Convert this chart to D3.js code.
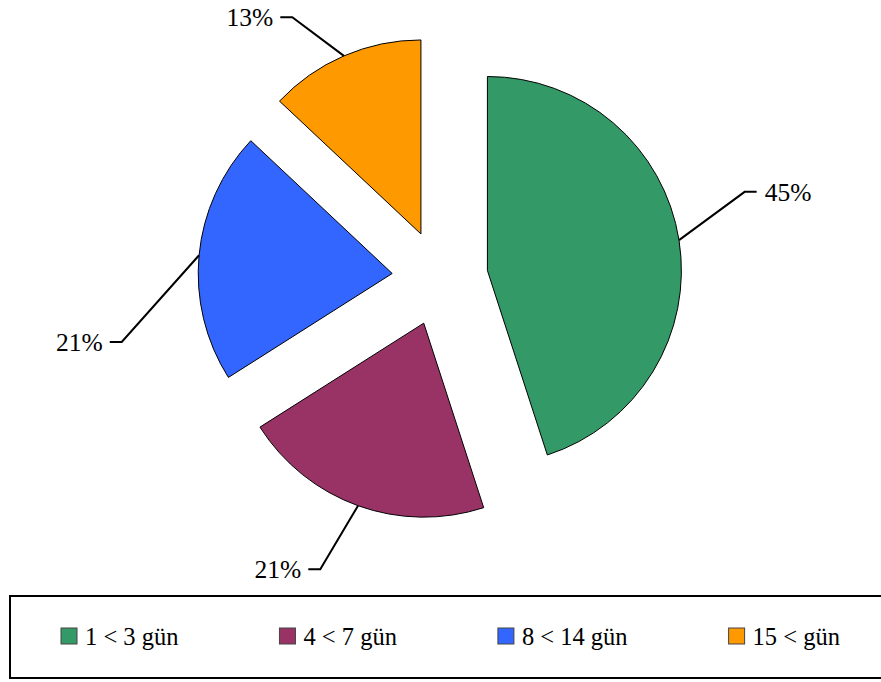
<!DOCTYPE html>
<html>
<head>
<meta charset="utf-8">
<script src="https://cdn.jsdelivr.net/npm/d3@7"></script>
<style>
  body { margin: 0; background: #fff; }
</style>
</head>
<body>
<svg id="chart" width="881" height="682"></svg>
<script>
// Data
var categories = ["1 < 3 gün", "4 < 7 gün", "8 < 14 gün", "15 < gün"];
var values = [45, 21, 21, 13];
var labels = ["45%", "21%", "21%", "13%"];
var colors = ["#339966", "#993366", "#3366FF", "#FF9900"];

var serif = "'Liberation Serif'";

var width = 881;
var height = 682;
var cx = 440, cy = 278;
var radius = 194;
var explode = 48;

// leader line layout: elbow radius and angle tweak (degrees) per slice
var elbowRadius = [269, 267, 279, 252];
var elbowShift = [-8, 3, -19.6, -7.3];

var svg = d3.select("#chart");

var pie = d3.pie().sort(null).value(d => d)(values);
var arc = d3.arc().innerRadius(0).outerRadius(radius);

var pieGroup = svg.append("g")
    .attr("transform", `translate(${cx},${cy})`);

function dir(a) { return [Math.sin(a), -Math.cos(a)]; }

pie.forEach(function (d, i) {
    var mid = (d.startAngle + d.endAngle) / 2;
    var o = dir(mid);
    var ox = o[0] * explode, oy = o[1] * explode;

    var g = pieGroup.append("g")
        .attr("transform", `translate(${ox},${oy})`);

    g.append("path")
        .attr("d", arc(d))
        .attr("fill", colors[i])
        .attr("stroke", "#000")
        .attr("stroke-width", 1);

    // leader line
    var p0 = [ox + o[0] * radius, oy + o[1] * radius];
    var ea = mid + elbowShift[i] * Math.PI / 180;
    var e = dir(ea);
    var p1 = [ox + e[0] * elbowRadius[i], oy + e[1] * elbowRadius[i]];
    var right = p1[0] > 0;
    var p2 = [p1[0] + (right ? 12 : -12), p1[1]];

    pieGroup.append("polyline")
        .attr("points", [p0, p1, p2].map(p => p.join(",")).join(" "))
        .attr("fill", "none")
        .attr("stroke", "#000")
        .attr("stroke-width", 2);

    pieGroup.append("text")
        .attr("x", p2[0] + (right ? 8 : -7))
        .attr("y", p2[1])
        .attr("dy", "0.34em")
        .attr("text-anchor", right ? "start" : "end")
        .style("font-family", serif)
        .style("font-size", "25.5px")
        .text(labels[i]);
});

// Legend
svg.append("rect")
    .attr("x", 10)
    .attr("y", 596)
    .attr("width", 890)
    .attr("height", 82)
    .attr("fill", "none")
    .attr("stroke", "#000")
    .attr("stroke-width", 2);

var legendGap = 101;
var x = 61;

categories.forEach(function (c, i) {
    var item = svg.append("g")
        .attr("transform", `translate(${x},636)`);

    item.append("rect")
        .attr("x", 0)
        .attr("y", -8)
        .attr("width", 16)
        .attr("height", 16)
        .attr("fill", colors[i])
        .attr("stroke", "#444")
        .attr("stroke-width", 1);

    var t = item.append("text")
        .attr("x", 24)
        .attr("y", 9)
        .style("font-family", serif)
        .style("font-size", "24.5px")
        .text(c);

    x += 24 + t.node().getComputedTextLength() + legendGap;
});
</script>
</body>
</html>
